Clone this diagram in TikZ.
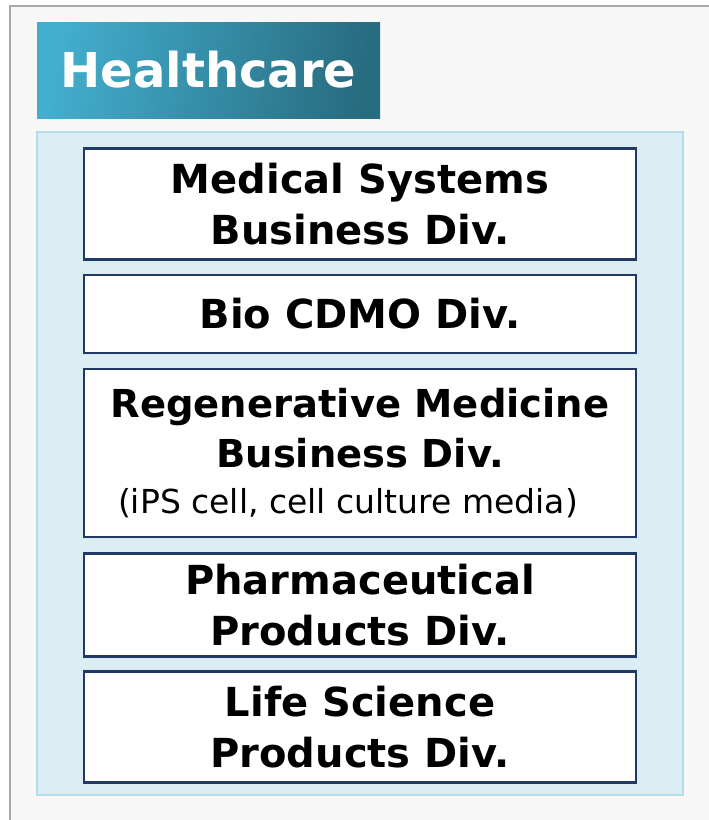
\documentclass[tikz,border=0pt]{standalone}
\usepackage{fontspec}
\setmainfont{DejaVu Sans}
\definecolor{framegray}{HTML}{A8A8A8}
\definecolor{pagegray}{HTML}{F7F7F7}
\definecolor{panelfill}{HTML}{DAEDF3}
\definecolor{panelline}{HTML}{B5DCE7}
\definecolor{boxline}{HTML}{1F3864}
\definecolor{headtop}{HTML}{43AECE}
\definecolor{headbot}{HTML}{286C80}
\tikzset{
  divbox/.style={draw=boxline, line width=2.4pt, fill=white, minimum width=552pt,
    align=center, inner sep=0pt, font=\fontsize{40}{51}\selectfont\bfseries}
}
\begin{document}
\begin{tikzpicture}[x=1pt,y=-1pt]
\clip (0,0) rectangle (709,820);
\fill [white] (0,0) rectangle (709,820);
\draw [framegray,fill=pagegray,line width=2pt] (10,6) rectangle (740,850);
\draw [panelline,fill=panelfill,line width=2pt] (37,132) rectangle (683,795);
\node [shade, shading=axis, top color=headtop, bottom color=headbot, shading angle=80,
  minimum width=343pt, minimum height=96pt, inner sep=0pt, text=white,
  font=\fontsize{48}{58}\selectfont\bfseries] (header) at (208.5,70) {Healthcare};
\node [divbox, minimum height=111pt] (medsys) at (360,204) {Medical Systems\\Business Div.};
\node [divbox, minimum height=78pt] (biocdmo) at (360,314) {Bio CDMO Div.};
\node [divbox, minimum height=168pt, font=\fontsize{38.5}{50}\selectfont\bfseries] (regen) at (360,453)
  {Regenerative Medicine\\Business Div.\\[-4pt]
   {\fontsize{33}{40}\selectfont\mdseries\hspace*{-24pt}(iPS cell, cell culture media)}};
\node [divbox, minimum height=103pt] (pharma) at (360,605) {Pharmaceutical\\Products Div.};
\node [divbox, minimum height=111pt] (lifesci) at (360,727) {Life Science\\Products Div.};
\end{tikzpicture}
\end{document}
